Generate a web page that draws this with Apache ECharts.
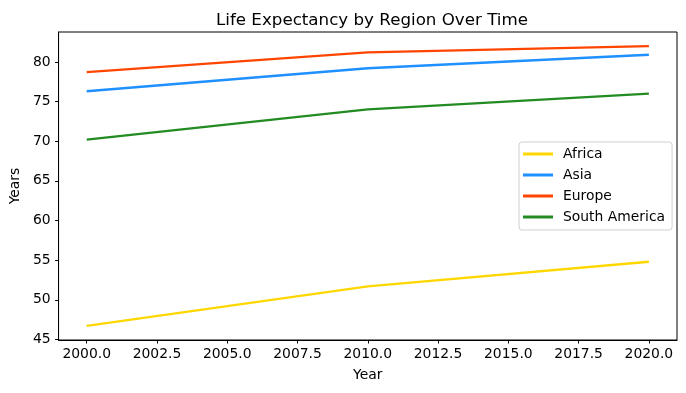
<!DOCTYPE html>
<html>
<head>
<meta charset="utf-8">
<script src="https://cdn.jsdelivr.net/npm/echarts@6/dist/echarts.min.js"></script>
<style>html,body{margin:0;padding:0;background:#fff}#c{width:686px;height:393px}</style>
</head>
<body>
<div id="c"></div>
<script>
const years = [2000, 2010, 2020];
const africa = [46.7, 51.7, 54.8];
const asia = [76.3, 79.2, 80.9];
const europe = [78.7, 81.2, 82.0];
const southAmerica = [70.2, 74.0, 76.0];
const xTicks = [2000, 2002.5, 2005, 2007.5, 2010, 2012.5, 2015, 2017.5, 2020];
const yTicks = [45, 50, 55, 60, 65, 70, 75, 80];

const font = 'DejaVu Sans';
function mk(name, vals, color) {
  return {
    name: name, type: 'line', data: years.map((y, i) => [y, vals[i]]),
    symbol: 'none', showSymbol: false,
    lineStyle: { color: color, width: 2.3 }, itemStyle: { color: color },
    emphasis: { disabled: true }, animation: false
  };
}
const chart = echarts.init(document.getElementById('c'));
chart.setOption({
  animation: false,
  backgroundColor: '#fff',
  title: {
    text: 'Life Expectancy by Region Over Time', left: 367, top: 7, textAlign: 'center',
    textStyle: { fontFamily: font, fontSize: 16.7, fontWeight: 'normal', color: '#000' }
  },
  grid: { left: 57, right: 9, top: 32, bottom: 53, show: true, borderColor: '#000', borderWidth: 1 },
  legend: {
    orient: 'vertical', left: 519, top: 142,
    padding: [5, 7, 6, 4], itemGap: 7, itemWidth: 30, itemHeight: 3, icon: 'rect',
    backgroundColor: 'rgba(255,255,255,0.8)', borderColor: '#d0d0d0', borderWidth: 1, borderRadius: 3,
    textStyle: { fontFamily: font, fontSize: 13.9, lineHeight: 14, color: '#000', padding: [0, 0, 0, 5] },
    data: ['Africa', 'Asia', 'Europe', 'South America']
  },
  xAxis: {
    type: 'value', min: 1999, max: 2021,
    name: 'Year', nameLocation: 'middle', nameGap: 28,
    nameTextStyle: { fontFamily: font, fontSize: 13.9, color: '#000' },
    axisLine: { show: true, lineStyle: { color: '#000', width: 1 } },
    axisTick: { show: true, inside: false, length: 3.5, customValues: xTicks, lineStyle: { color: '#000' } },
    axisLabel: { customValues: xTicks, margin: 7, fontFamily: font, fontSize: 13.9, color: '#000',
      formatter: v => Number(v).toFixed(1) },
    splitLine: { show: false }
  },
  yAxis: {
    type: 'value', min: 44.93, max: 83.77,
    name: 'Years', nameLocation: 'middle', nameGap: 34, nameRotate: 90,
    nameTextStyle: { fontFamily: font, fontSize: 13.9, color: '#000' },
    axisLine: { show: true, lineStyle: { color: '#000', width: 1 } },
    axisTick: { show: true, inside: false, length: 3.5, customValues: yTicks, lineStyle: { color: '#000' } },
    axisLabel: { customValues: yTicks, margin: 8, fontFamily: font, fontSize: 13.9, color: '#000',
      formatter: v => String(Math.round(v)) },
    splitLine: { show: false }
  },
  series: [
    mk('Africa', africa, '#FFD700'),
    mk('Asia', asia, '#1E90FF'),
    mk('Europe', europe, '#FF4500'),
    mk('South America', southAmerica, '#228B22')
  ]
});
</script>
</body>
</html>
